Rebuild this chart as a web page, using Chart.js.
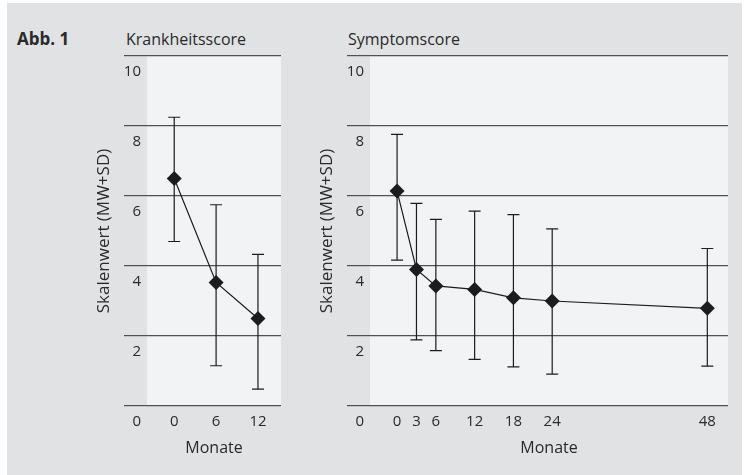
<!DOCTYPE html>
<html lang="de">
<head>
<meta charset="UTF-8" />
<title>Abb. 1</title>
<script src="https://cdn.jsdelivr.net/npm/chart.js@4.4.0/dist/chart.umd.min.js"></script>
<style>
  body { margin: 0; background: #fff; }
  #wrap { position: relative; width: 747px; height: 475px; overflow: hidden; font-family: "Open Sans", sans-serif; color: #2a2a2a; }
  #panel { position: absolute; left: 7px; top: 3px; width: 735px; height: 472px; background: #e1e2e4; }
  .txt { position: absolute; font-size: 16px; line-height: 20px; white-space: nowrap; }
  canvas { position: absolute; top: 0; }
</style>
</head>
<body>
<div id="wrap">
  <div id="panel"></div>
  <div class="txt" style="left:17px; top:29px; font-weight:bold; font-size:17px;">Abb. 1</div>
  <div class="txt" style="left:126px; top:29px;">Krankheitsscore</div>
  <div class="txt" style="left:348px; top:29px;">Symptomscore</div>
  <canvas id="left" width="220" height="475" style="left:80px"></canvas>
  <canvas id="right" width="447" height="475" style="left:300px"></canvas>
</div>

<script>
// Krankheitsscore
const months1 = [0, 6, 12];
const mean1 = [6.5, 3.53, 2.5];
const upper1 = [8.25, 5.75, 4.33];
const lower1 = [4.7, 1.15, 0.48];

// Symptomscore
const months2 = [0, 3, 6, 12, 18, 24, 48];
const mean2 = [6.14, 3.9, 3.43, 3.33, 3.09, 3.0, 2.79];
const upper2 = [7.76, 5.79, 5.33, 5.57, 5.47, 5.06, 4.5];
const lower2 = [4.17, 1.89, 1.58, 1.33, 1.12, 0.91, 1.14];

const yTicks = [0, 2, 4, 6, 8, 10];

const ink = "#1c1c1c";
const gridCol = "#505050";

// light plot background
const plotBg = {
  id: "plotBg",
  beforeDraw(chart) {
    const { ctx, chartArea: a } = chart;
    ctx.save();
    ctx.fillStyle = "#f2f3f5";
    ctx.fillRect(a.left, a.top, a.right - a.left, a.bottom - a.top);
    ctx.restore();
  },
};

// whiskers from lower to upper, with caps
const errorBars = {
  id: "errorBars",
  beforeDatasetsDraw(chart) {
    const { ctx, scales } = chart;
    const eb = chart.options.plugins.errorBars;
    ctx.save();
    ctx.strokeStyle = ink;
    ctx.lineWidth = 1.2;
    eb.x.forEach((m, i) => {
      const px = scales.x.getPixelForValue(m);
      const top = scales.y.getPixelForValue(eb.upper[i]);
      const bot = scales.y.getPixelForValue(eb.lower[i]);
      ctx.beginPath();
      ctx.moveTo(px, top);
      ctx.lineTo(px, bot);
      ctx.moveTo(px - 6, top);
      ctx.lineTo(px + 6, top);
      ctx.moveTo(px - 6, bot);
      ctx.lineTo(px + 6, bot);
      ctx.stroke();
    });
    ctx.restore();
  },
};

function makePanel(id, months, mean, lower, upper, xMin, xMax, padLeft, padRight) {
  const points = months.map((m, i) => ({ x: m, y: mean[i] }));
  return new Chart(document.getElementById(id), {
    type: "line",
    data: {
      datasets: [{
        data: points,
        borderColor: ink,
        borderWidth: 1.2,
        pointStyle: "rectRot",
        pointRadius: 7.5,
        pointBackgroundColor: ink,
        pointBorderWidth: 0,
        tension: 0,
      }],
    },
    options: {
      responsive: false,
      animation: false,
      layout: { padding: { left: padLeft, right: padRight, top: 56, bottom: 9 } },
      plugins: {
        legend: { display: false },
        tooltip: { enabled: false },
        errorBars: { x: months, lower: lower, upper: upper },
      },
      scales: {
        x: {
          type: "linear",
          min: xMin,
          max: xMax,
          grid: { display: false, drawTicks: false },
          border: { display: false },
          afterBuildTicks: (s) => { s.ticks = months.map((v) => ({ value: v })); },
          afterFit: (s) => { s.height = 60; },
          ticks: {
            autoSkip: false,
            maxRotation: 0,
            padding: 7,
            color: "#2a2a2a",
            font: { family: "Open Sans", size: 15 },
          },
          title: {
            display: true,
            text: "Monate",
            color: "#2a2a2a",
            font: { family: "Open Sans", size: 16 },
            padding: { top: 0, bottom: 8 },
          },
        },
        y: {
          min: 0,
          max: 10,
          afterBuildTicks: (s) => { s.ticks = yTicks.map((v) => ({ value: v })); },
          afterFit: (s) => { s.width = 53; },
          grid: { color: gridCol, lineWidth: 1.2, tickLength: 23, drawTicks: true, tickColor: gridCol },
          border: { display: false },
          ticks: {
            padding: -17,
            labelOffset: 16,
            color: "#2a2a2a",
            font: { family: "Open Sans", size: 15 },
          },
          title: {
            display: true,
            text: "Skalenwert (MW+SD)",
            color: "#2a2a2a",
            font: { family: "Open Sans", size: 17 },
            padding: { top: 0, bottom: 0 },
          },
        },
      },
    },
    plugins: [plotBg, errorBars],
  });
}

makePanel("left", months1, mean1, lower1, upper1, -3.9, 15.3, 14, 19);
makePanel("right", months2, mean2, lower2, upper2, -4.19, 51.2, 17, 19);
</script>
</body>
</html>
